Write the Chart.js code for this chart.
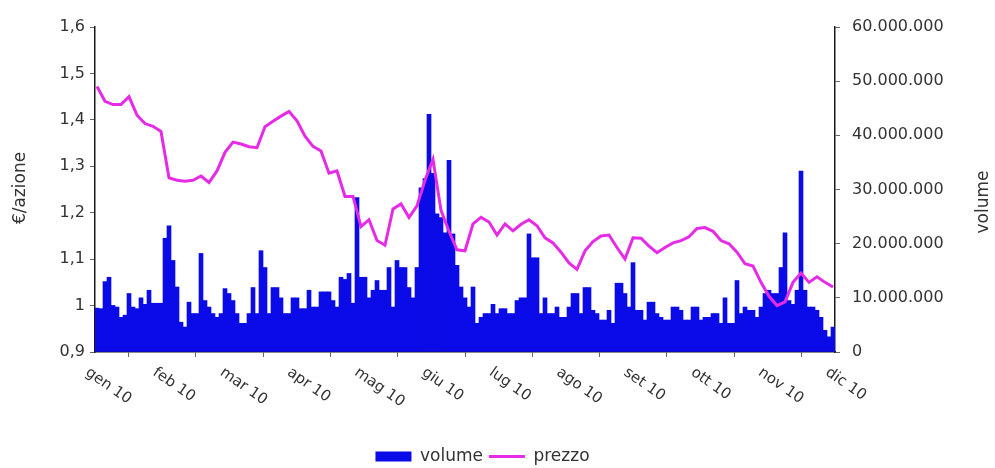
<!DOCTYPE html>
<html>
<head>
<meta charset="utf-8">
<script src="https://cdn.jsdelivr.net/npm/chart.js@4/dist/chart.umd.min.js"></script>
<style>
  html, body { margin: 0; background: #fff; }
  #wrap { width: 995px; height: 468px; position: relative; }
</style>
</head>
<body>
<div id="wrap"><canvas id="c"></canvas></div>
<script>
/* Andamento titolo 2010: volumi giornalieri (barre, asse dx) e prezzo (linea, asse sx). */
var MONTHS = ["gen 10", "feb 10", "mar 10", "apr 10", "mag 10", "giu 10",
              "lug 10", "ago 10", "set 10", "ott 10", "nov 10", "dic 10"];
var DAYS = 185;          // sedute rappresentate (gen -> dic)
var PRICE_EVERY = 2;     // un prezzo ogni 2 sedute

// volumi in milioni di azioni, una barra per seduta
var VOLUME_M = [
  8.1, 8.0, 13.0, 13.8, 8.6, 8.3, 6.4, 6.8, 10.8, 8.3,
  8.0, 10.0, 8.8, 11.4, 9.0, 9.0, 9.0, 21.0, 23.3, 16.9,
  12.0, 5.5, 4.6, 9.2, 7.1, 7.1, 18.2, 9.5, 8.3, 7.1,
  6.4, 7.1, 11.7, 10.8, 9.5, 7.1, 5.3, 5.3, 7.1, 11.9,
  7.1, 18.7, 15.6, 7.1, 11.9, 11.9, 10.0, 7.1, 7.1, 10.0,
  10.0, 8.0, 8.0, 11.4, 8.3, 8.3, 11.1, 11.1, 11.1, 9.5,
  8.3, 13.8, 13.4, 14.5, 9.0, 28.5, 13.8, 13.8, 10.0, 11.4,
  13.2, 11.4, 11.4, 15.6, 8.3, 16.9, 15.6, 15.6, 11.9, 10.0,
  15.6, 30.3, 32.0, 43.9, 33.0, 25.5, 24.8, 22.0, 35.4, 21.8,
  16.0, 12.0, 10.0, 8.3, 12.0, 5.3, 6.4, 7.1, 7.1, 8.8,
  7.1, 8.0, 8.0, 7.1, 7.1, 9.5, 10.0, 10.0, 21.8, 17.4,
  17.4, 7.1, 10.0, 7.1, 7.1, 8.3, 6.4, 6.4, 8.3, 10.8,
  10.8, 7.1, 11.9, 11.9, 7.7, 7.1, 5.9, 5.9, 7.7, 5.3,
  12.7, 12.7, 10.8, 8.3, 16.5, 7.7, 7.7, 5.9, 9.2, 9.2,
  7.1, 6.4, 5.9, 5.9, 8.3, 8.3, 7.7, 5.9, 5.9, 8.3,
  8.3, 5.9, 6.4, 6.4, 7.1, 7.1, 5.3, 10.0, 5.3, 5.3,
  13.2, 7.1, 8.3, 7.7, 7.7, 6.4, 8.3, 10.8, 11.4, 10.8,
  10.8, 15.6, 22.0, 9.5, 8.8, 11.4, 33.4, 11.4, 8.3, 8.3,
  7.7, 6.4, 4.0, 2.8, 4.6
];

// prezzo in euro per azione
var PRICE = [
  1.472, 1.440, 1.433, 1.433, 1.450, 1.410, 1.392, 1.386, 1.375, 1.275,
  1.270, 1.268, 1.270, 1.279, 1.265, 1.290, 1.330, 1.352, 1.348, 1.342,
  1.340, 1.385, 1.397, 1.408, 1.418, 1.398, 1.365, 1.343, 1.333, 1.285,
  1.290, 1.235, 1.235, 1.170, 1.185, 1.140, 1.130, 1.208, 1.219, 1.190,
  1.215, 1.270, 1.315, 1.205, 1.160, 1.120, 1.118, 1.176, 1.190, 1.180,
  1.152, 1.176, 1.161, 1.175, 1.185, 1.172, 1.146, 1.135, 1.115, 1.092,
  1.078, 1.118, 1.138, 1.150, 1.152, 1.125, 1.100, 1.146, 1.145, 1.128,
  1.114, 1.125, 1.135, 1.140, 1.148, 1.166, 1.168, 1.160, 1.140, 1.133,
  1.115, 1.090, 1.085, 1.050, 1.020, 1.000, 1.008, 1.050, 1.070, 1.050,
  1.062, 1.050, 1.040
];

var PRICE_TICKS = [0.9, 1.0, 1.1, 1.2, 1.3, 1.4, 1.5, 1.6];
var VOLUME_TICKS = [0, 1e7, 2e7, 3e7, 4e7, 5e7, 6e7];

var FONT = "'DejaVu Sans', 'Open Sans', sans-serif";
var TXT = "#333";
var AXIS = "#1a1a1a";

Chart.defaults.font.family = FONT;
Chart.defaults.font.size = 16;
Chart.defaults.color = TXT;

function fmtPrice(v) {
  return String(Math.round(v * 10) / 10).replace(".", ",");
}
function fmtVol(v) {
  return String(Math.round(v)).replace(/\B(?=(\d{3})+(?!\d))/g, ".");
}

var volPoints = VOLUME_M.map(function (v, i) { return { x: i + 0.5, y: v * 1e6 }; });
var pricePoints = PRICE.map(function (p, j) { return { x: PRICE_EVERY * j + 0.5, y: p }; });

// etichette mese inclinate verso il basso a destra + titoli assi verticali
var decor = {
  id: "decor",
  afterLayout: function (chart) {           // legenda un po' più in basso
    chart.legend.top += 7;
    chart.legend.bottom += 7;
  },
  afterDraw: function (chart) {
    var ctx = chart.ctx, xs = chart.scales.x, a = chart.chartArea;
    ctx.save();
    ctx.fillStyle = TXT;
    ctx.font = "15px " + FONT;
    ctx.textAlign = "left";
    ctx.textBaseline = "middle";
    MONTHS.forEach(function (m, k) {
      var px = xs.getPixelForValue(k * DAYS / (MONTHS.length - 1));
      ctx.save();
      ctx.translate(px - 8, a.bottom + 19);
      ctx.rotate(35 * Math.PI / 180);
      ctx.fillText(m, 0, 0);
      ctx.restore();
    });
    ctx.font = "17px " + FONT;
    ctx.textAlign = "center";
    [["€/azione", 21, 188], ["volume", 984, 202]].forEach(function (t) {
      ctx.save();
      ctx.translate(t[1], t[2]);
      ctx.rotate(-Math.PI / 2);
      ctx.fillText(t[0], 0, 0);
      ctx.restore();
    });
    ctx.restore();
  }
};

new Chart(document.getElementById("c"), {
  data: {
    datasets: [
      {
        type: "bar", label: "volume", data: volPoints, yAxisID: "y1", order: 1,
        backgroundColor: "#0b0be8", borderWidth: 0,
        barPercentage: 1.0, categoryPercentage: 1.0, pointStyle: "rect"
      },
      {
        type: "line", label: "prezzo", data: pricePoints, yAxisID: "y", order: 0,
        borderColor: "#e62ae6", backgroundColor: "#e62ae6", borderWidth: 3,
        pointRadius: 0, tension: 0, pointStyle: "line"
      }
    ]
  },
  options: {
    responsive: true, maintainAspectRatio: false, animation: false,
    layout: { padding: { top: 27, left: 0, right: 30, bottom: 0 } },
    plugins: {
      tooltip: { enabled: false },
      legend: {
        position: "bottom",
        labels: {
          usePointStyle: true, pointStyleWidth: 36, boxHeight: 10, padding: 6,
          font: { size: 17 }, color: TXT,
          sort: function (a, b) { return a.datasetIndex - b.datasetIndex; }
        }
      }
    },
    scales: {
      x: {
        type: "linear", min: 0, max: DAYS, offset: false,
        afterBuildTicks: function (s) {
          s.ticks = MONTHS.map(function (m, k) { return { value: k * DAYS / (MONTHS.length - 1) }; });
        },
        ticks: { display: false },
        grid: { drawOnChartArea: false, drawTicks: true, tickLength: 5, color: "#666" },
        border: { color: AXIS, width: 1.5 },
        afterFit: function (s) { s.height = 83; }
      },
      y: {
        position: "left", min: 0.9, max: 1.6,
        afterBuildTicks: function (s) { s.ticks = PRICE_TICKS.map(function (v) { return { value: v }; }); },
        ticks: { callback: fmtPrice, padding: 5, color: TXT },
        grid: { drawOnChartArea: false, tickLength: 5, color: "#666" },
        border: { color: AXIS, width: 1.5 },
        afterFit: function (s) { s.width = 95; }
      },
      y1: {
        position: "right", min: 0, max: 6e7,
        afterBuildTicks: function (s) { s.ticks = VOLUME_TICKS.map(function (v) { return { value: v }; }); },
        ticks: { callback: fmtVol, padding: 12, color: TXT },
        grid: { drawOnChartArea: false, tickLength: 5, color: "#666" },
        border: { color: AXIS, width: 1.5 },
        afterFit: function (s) { s.width = 130; }
      }
    }
  },
  plugins: [decor]
});
</script>
</body>
</html>
